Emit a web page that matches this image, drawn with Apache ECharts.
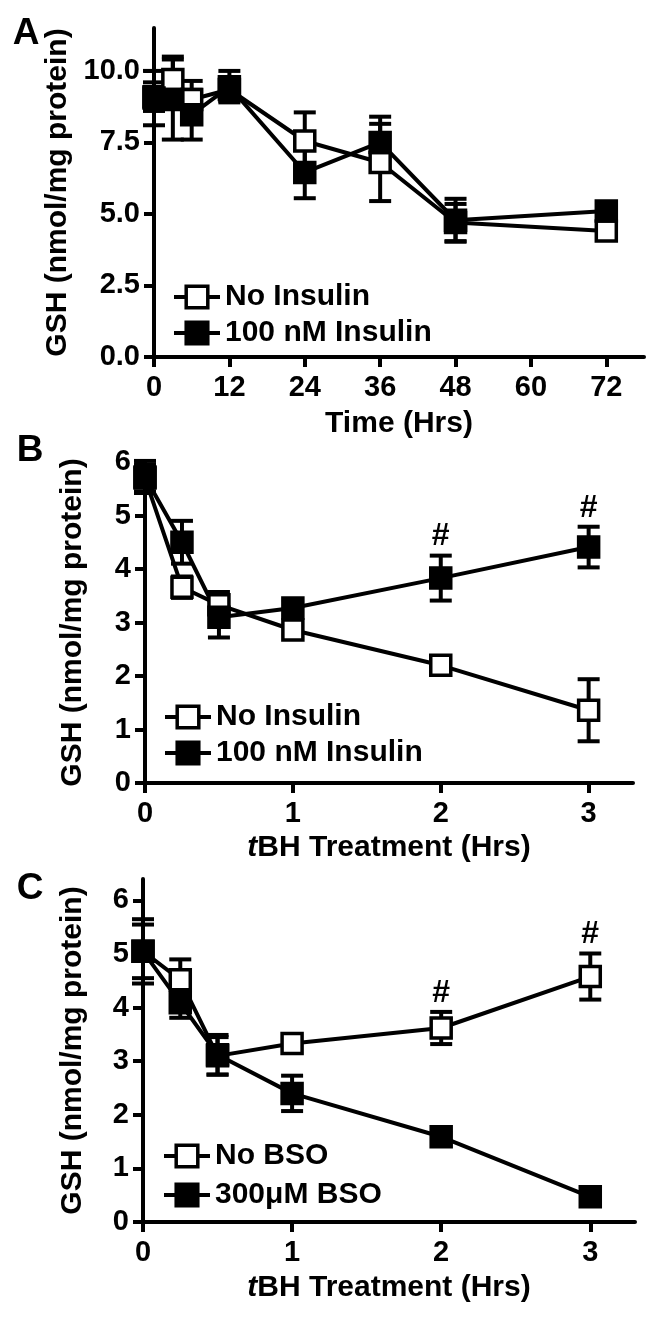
<!DOCTYPE html>
<html><head><meta charset="utf-8">
<script src="https://cdn.jsdelivr.net/npm/echarts@6/dist/echarts.min.js"></script>
<style>html,body{margin:0;padding:0;background:#fff}#c{width:660px;height:1318px}</style>
</head><body><div id="c"></div>
<script>
// ---------- Data ----------
// Panel A
const timeA = [0, 3, 6, 12, 24, 36, 48, 72];
const noInsA = [9.1, 9.7, 9.0, 9.35, 7.55, 6.8, 4.7, 4.4];
const noInsAErr = [0.5, 0.8, 0.65, 0.4, 1.0, 1.35, 0.65, 0.15];
const insA = [9.05, 9.0, 8.47, 9.45, 6.45, 7.5, 4.78, 5.1];
const insAErr = [0.95, 1.4, 0.87, 0.55, 0.9, 0.9, 0.75, 0.15];
const xTicksA = [0, 12, 24, 36, 48, 60, 72];
const yTicksA = [0, 2.5, 5, 7.5, 10];
// Panel B
const timeB = [0, 0.25, 0.5, 1, 2, 3];
const noInsB = [5.7, 3.66, 3.33, 2.86, 2.2, 1.36];
const noInsBErr = [0.25, 0.2, 0.24, 0.1, 0.12, 0.58];
const insB = [5.72, 4.5, 3.1, 3.27, 3.83, 4.41];
const insBErr = [0.3, 0.4, 0.38, 0.15, 0.42, 0.38];
const insBSig = [0, 0, 0, 0, 1, 1];
const xTicksB = [0, 1, 2, 3];
const yTicksB = [0, 1, 2, 3, 4, 5, 6];
// Panel C
const timeC = [0, 0.25, 0.5, 1, 2, 3];
const noBSO = [5.05, 4.52, 3.1, 3.33, 3.62, 4.58];
const noBSOErr = [0.6, 0.38, 0.35, 0.15, 0.3, 0.43];
const noBSOSig = [0, 0, 0, 0, 1, 1];
const bso = [5.05, 4.09, 3.12, 2.4, 1.59, 0.47];
const bsoErr = [0.5, 0.28, 0.37, 0.33, 0.08, 0.05];
const xTicksC = [0, 1, 2, 3];
const yTicksC = [0, 1, 2, 3, 4, 5, 6];

// ---------- Styling helpers ----------
const FF = '"Liberation Sans", Arial, Helvetica, sans-serif';
const BLACK = '#000';
const txt = (size) => ({fontSize: size, fontWeight: 'bold', color: BLACK, fontFamily: FF});

function xAxisCfg(grid, max, interval, ticks, name, gap, rich) {
  return {
    gridIndex: grid, type: 'value', min: 0, max: max, interval: interval,
    axisLine: {show: true, onZero: false, lineStyle: {color: BLACK, width: 4}},
    axisTick: {show: true, length: 10, customValues: ticks, lineStyle: {color: BLACK, width: 4}},
    axisLabel: Object.assign({customValues: ticks, margin: 16}, txt(29)),
    splitLine: {show: false},
    name: name, nameLocation: 'middle', nameGap: gap,
    nameTextStyle: Object.assign(txt(30), rich ? {rich: {i: Object.assign({fontStyle: 'italic'}, txt(30))}} : {})
  };
}
function yAxisCfg(grid, max, interval, ticks, gap, fmt) {
  return {
    gridIndex: grid, type: 'value', min: 0, max: max, interval: interval,
    axisLine: {show: true, onZero: false, lineStyle: {color: BLACK, width: 4}},
    axisTick: {show: true, length: 10, customValues: ticks, lineStyle: {color: BLACK, width: 4}},
    axisLabel: Object.assign({customValues: ticks, margin: 14, formatter: fmt}, txt(29)),
    splitLine: {show: false},
    name: 'GSH (nmol/mg protein)', nameLocation: 'middle', nameGap: gap, nameRotate: 90,
    nameTextStyle: txt(30)
  };
}
function lineSeries(name, xs, ys, idx, open) {
  return {
    type: 'line', name: name, xAxisIndex: idx, yAxisIndex: idx,
    data: xs.map((x, i) => [x, ys[i]]),
    symbol: 'rect', symbolSize: 20, clip: false, z: 3,
    itemStyle: {color: open ? '#fff' : BLACK, borderColor: BLACK, borderWidth: 3.5},
    lineStyle: {color: BLACK, width: 4},
    emphasis: {disabled: true}, animation: false
  };
}
function errSeries(xs, ys, es, sig, idx) {
  return {
    type: 'custom', xAxisIndex: idx, yAxisIndex: idx, z: 2, clip: false, silent: true,
    data: xs.map((x, i) => [x, ys[i], es[i], sig ? sig[i] : 0]),
    encode: {x: 0, y: 1},
    renderItem: function (params, api) {
      const x = api.value(0), m = api.value(1), e = api.value(2), s = api.value(3);
      const t = api.coord([x, m + e]), b = api.coord([x, m - e]);
      const hw = 11, ls = {stroke: BLACK, lineWidth: 4};
      const ch = [
        {type: 'line', shape: {x1: t[0], y1: t[1], x2: b[0], y2: b[1]}, style: ls},
        {type: 'line', shape: {x1: t[0] - hw, y1: t[1], x2: t[0] + hw, y2: t[1]}, style: ls},
        {type: 'line', shape: {x1: b[0] - hw, y1: b[1], x2: b[0] + hw, y2: b[1]}, style: ls}
      ];
      if (s) {
        ch.push({type: 'text', x: t[0], y: t[1] - 3,
          style: {text: '#', fontSize: 32, fontWeight: 'bold', fontFamily: FF, fill: BLACK, align: 'center', verticalAlign: 'bottom'}});
      }
      return {type: 'group', children: ch};
    },
    animation: false
  };
}
function legendCfg(names, left, top, gap) {
  return {
    data: names, orient: 'vertical', left: left, top: top,
    itemWidth: 46, itemHeight: 27, itemGap: gap, selectedMode: false,
    lineStyle: {color: BLACK, width: 4},
    itemStyle: {borderColor: BLACK, borderWidth: 3.5},
    textStyle: txt(30)
  };
}

const chart = echarts.init(document.getElementById('c'), null, {renderer: 'canvas'});
chart.setOption({
  backgroundColor: '#fff',
  animation: false,
  grid: [
    {left: 154, top: 28, width: 490, height: 329},
    {left: 145, top: 462, width: 488, height: 321},
    {left: 143, top: 879, width: 492, height: 343}
  ],
  xAxis: [
    xAxisCfg(0, 78, 12, xTicksA, 'Time (Hrs)', 52, false),
    xAxisCfg(1, 3.3, 1, xTicksB, '{i|t}BH Treatment (Hrs)', 50, true),
    xAxisCfg(2, 3.3, 1, xTicksC, '{i|t}BH Treatment (Hrs)', 51, true)
  ],
  yAxis: [
    yAxisCfg(0, 11.5, 2.5, yTicksA, 72, v => v.toFixed(1)),
    yAxisCfg(1, 6, 1, yTicksB, 57, v => String(v)),
    yAxisCfg(2, 6.4, 1, yTicksC, 55, v => String(v))
  ],
  legend: [
    legendCfg(['No Insulin', '100 nM Insulin'], 167, 277, 6),
    legendCfg(['No Insulin', '100 nM Insulin'], 158, 697, 6),
    legendCfg(['No BSO', '300\u03bcM BSO'], 157, 1136, 9)
  ],
  graphic: [
    {type: 'text', x: 26, y: 34, style: {text: 'A', fontSize: 37, fontWeight: 'bold', fontFamily: FF, fill: BLACK, align: 'center', verticalAlign: 'middle'}},
    {type: 'text', x: 30, y: 451, style: {text: 'B', fontSize: 37, fontWeight: 'bold', fontFamily: FF, fill: BLACK, align: 'center', verticalAlign: 'middle'}},
    {type: 'text', x: 30, y: 889, style: {text: 'C', fontSize: 37, fontWeight: 'bold', fontFamily: FF, fill: BLACK, align: 'center', verticalAlign: 'middle'}}
  ],
  series: [
    errSeries(timeA, noInsA, noInsAErr, null, 0),
    errSeries(timeA, insA, insAErr, null, 0),
    lineSeries('No Insulin', timeA, noInsA, 0, true),
    lineSeries('100 nM Insulin', timeA, insA, 0, false),
    errSeries(timeB, noInsB, noInsBErr, null, 1),
    errSeries(timeB, insB, insBErr, insBSig, 1),
    lineSeries('No Insulin', timeB, noInsB, 1, true),
    lineSeries('100 nM Insulin', timeB, insB, 1, false),
    errSeries(timeC, noBSO, noBSOErr, noBSOSig, 2),
    errSeries(timeC, bso, bsoErr, null, 2),
    lineSeries('No BSO', timeC, noBSO, 2, true),
    lineSeries('300\u03bcM BSO', timeC, bso, 2, false)
  ]
});
</script>
</body></html>
